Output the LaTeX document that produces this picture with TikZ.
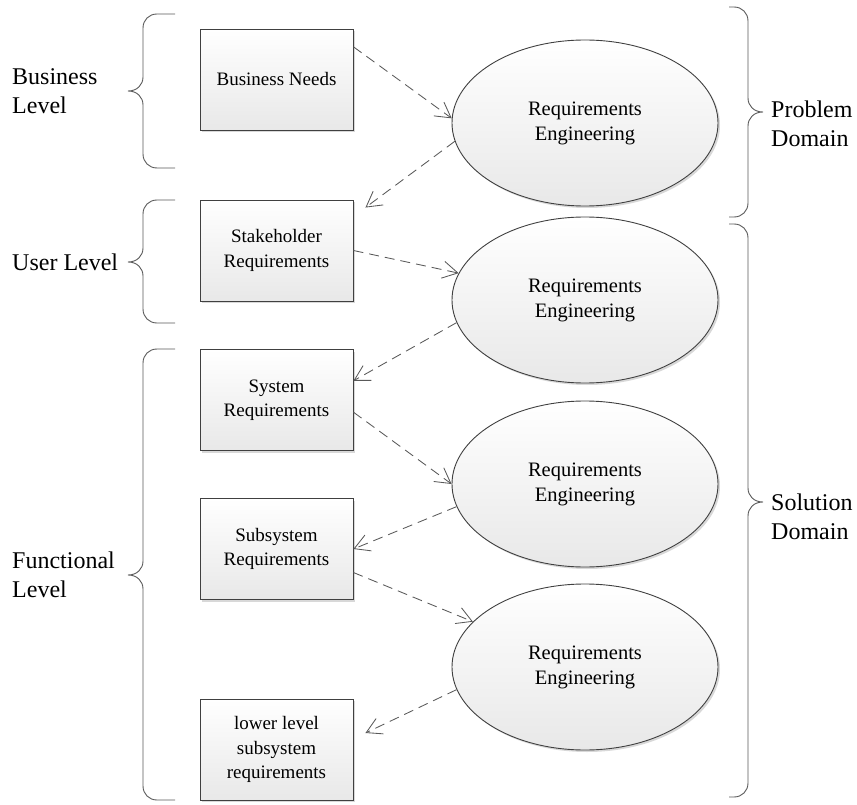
\documentclass[tikz,border=0pt]{standalone}
\usepackage{fontspec}
\setmainfont{Liberation Serif}
\usetikzlibrary{arrows.meta,calc,shapes.geometric,shadows}

% curly brace opening to the right (levels on the left side)
\newcommand{\levelbrace}[3]{% #1 top, #2 tip, #3 bottom
  \draw[bracestyle] (175,#1) -- (157,#1)
    .. controls (149,#1) and (143,#1+6) .. (143,#1+14)
    -- (143,#2-14)
    .. controls (143,#2-6) and (137,#2) .. (128,#2)
    .. controls (137,#2) and (143,#2+6) .. (143,#2+14)
    -- (143,#3-14)
    .. controls (143,#3-6) and (149,#3) .. (157,#3)
    -- (175,#3);}
% curly brace opening to the left (domains on the right side)
\newcommand{\domainbrace}[3]{% #1 top, #2 tip, #3 bottom
  \draw[bracestyle] (729,#1) -- (734,#1)
    .. controls (742,#1) and (748,#1+6) .. (748,#1+14)
    -- (748,#2-14)
    .. controls (748,#2-6) and (754,#2) .. (763,#2)
    .. controls (754,#2) and (748,#2+6) .. (748,#2+14)
    -- (748,#3-14)
    .. controls (748,#3-6) and (742,#3) .. (734,#3)
    -- (729,#3);}

\begin{document}
\begin{tikzpicture}[x=1pt,y=-1pt,
  reqbox/.style={rectangle, draw=black!75, line width=0.9pt,
    minimum width=153pt, minimum height=101pt, inner sep=0pt,
    top color=white, bottom color=black!9, align=center,
    font=\fontsize{19}{24.5}\selectfont,
    drop shadow={shadow xshift=2pt, shadow yshift=-2pt, fill=black!30, opacity=0.5}},
  reproc/.style={ellipse, draw=black!75, line width=0.9pt,
    minimum width=266pt, minimum height=166pt, inner sep=0pt,
    top color=white, bottom color=black!9, align=center,
    font=\fontsize{20.5}{25}\selectfont,
    drop shadow={shadow xshift=2pt, shadow yshift=-2pt, fill=black!30, opacity=0.5}},
  conn/.style={draw=black!65, line width=0.85pt, dash pattern=on 10pt off 6pt,
    -{Straight Barb[length=15pt,width=17pt,line width=0.85pt]}},
  bracestyle/.style={draw=black!65, line width=0.9pt},
  sidelabel/.style={inner sep=0pt, align=left, anchor=west,
    font=\fontsize{24}{29}\selectfont}
]
\useasboundingbox (0,0) rectangle (857,805);

% requirement artefacts
\node[reqbox] (bn) at (276.5,79.5)  {Business Needs};
\node[reqbox] (sh) at (276.5,250.5) {Stakeholder\\Requirements};
\node[reqbox] (sy) at (276.5,400)   {System\\Requirements};
\node[reqbox] (ss) at (276.5,549)   {Subsystem\\Requirements};
\node[reqbox] (ll) at (276.5,749.5) {lower level\\subsystem\\requirements};

% engineering activities
\node[reproc] (e1) at (585,123) {Requirements\\Engineering};
\node[reproc] (e2) at (585,300) {Requirements\\Engineering};
\node[reproc] (e3) at (585,484) {Requirements\\Engineering};
\node[reproc] (e4) at (585,667) {Requirements\\Engineering};

% flow between levels
\coordinate (shin) at ($(sh.north east)+(12,8)$);
\coordinate (llin) at ($(ll.east)+(12,-16.5)$);
\draw[conn] (bn.23.6) -- (e1.178);
\draw[conn] (e1.188.3) -- (shin);
\draw[conn] (sh.east) -- (e2.168.3);
\draw[conn] (e2.190.9) -- (sy.14.6);
\draw[conn] (sy.-9.6) -- (e3.180);
\draw[conn] (e3.190) -- (ss.east);
\draw[conn] (ss.-17.4) -- (e4.158.9);
\draw[conn] (e4.190) -- (llin);

% level braces and labels
\levelbrace{14}{91}{168}
\levelbrace{200}{262}{323}
\levelbrace{349}{575}{800}
\node[sidelabel] (lbus) at (12,91)  {Business\\Level};
\node[sidelabel] (lusr) at (12,262) {User Level};
\node[sidelabel] (lfun) at (12,575) {Functional\\Level};

% domain braces and labels
\domainbrace{7}{112}{217}
\domainbrace{224}{502}{797}
\node[sidelabel] (dprob) at (771,124) {Problem\\Domain};
\node[sidelabel] (dsol)  at (771,517) {Solution\\Domain};
\end{tikzpicture}
\end{document}
